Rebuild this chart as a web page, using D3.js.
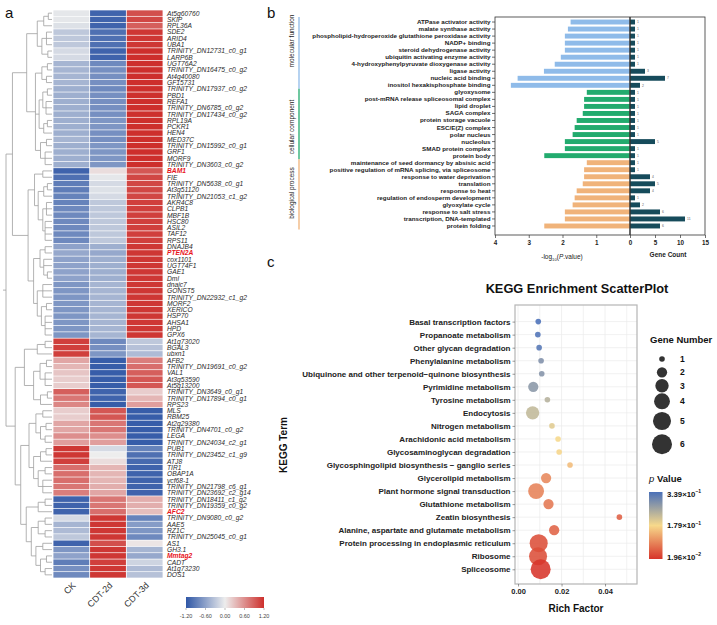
<!DOCTYPE html>
<html><head><meta charset="utf-8">
<script src="https://cdn.jsdelivr.net/npm/d3@7"></script>
<style>body{margin:0;background:#fff} svg{display:block} text{font-family:"Liberation Sans",Arial,sans-serif}</style>
</head><body><svg id="c" width="717" height="625"></svg>
<script>
// ---------- Panel a data ----------
const genes = ["At5g60760","SKIP","RPL36A","SDE2","ARID4","UBA1","TRINITY_DN12731_c0_g1","LARP6B","UGT76A2","TRINITY_DN16475_c0_g2","At4g40080","GF15731","TRINITY_DN17937_c0_g2","PBD1","REFA1","TRINITY_DN6785_c0_g2","TRINITY_DN17434_c0_g2","RPL19A","PCKR1","HEN4","MED37C","TRINITY_DN15992_c0_g1","GRF1","MORF9","TRINITY_DN3603_c0_g2","BAM1","FIE","TRINITY_DN5638_c0_g1","At3g51120","TRINITY_DN21053_c1_g2","AKR4C8","CLPB1","MBF1B","HSC80","ASIL2","TAF12","RPS11","DNAJB4","PTEN2A","cox1101","UGT74F1","GAE1","Dml","dnajc7","GONST5","TRINITY_DN22932_c1_g2","MORF2","XERICO","HSP70","AHSA1","HPD","GPX6","At1g73020","BGAL3","ubxn1","AFB2","TRINITY_DN19691_c0_g2","VAL1","At3g53590","At5g13200","TRINITY_DN3649_c0_g1","TRINITY_DN17894_c0_g1","RPS23","MLS","RBM25","At2g29380","TRINITY_DN4701_c0_g2","LEGA","TRINITY_DN24034_c2_g1","PUB1","TRINITY_DN23452_c1_g9","ATJ8","TIR1","OBAP1A","ycf68-1","TRINITY_DN21798_c6_g1","TRINITY_DN23692_c2_g14","TRINITY_DN18411_c1_g2","TRINITY_DN19359_c0_g2","AFC2","TRINITY_DN9080_c0_g2","AAE5","RZ1C","TRINITY_DN25045_c0_g1","AS1","GH3.1","Mmtag2","CADT","At1g73230","DOS1"];
const highlightGenes = ["BAM1","PTEN2A","AFC2","Mmtag2"];
const conditions = ["CK","CDT-2d","CDT-3d"];
const ckValues = [-0.05,-0.05,-0.1,-0.3,-0.3,-0.3,-0.15,-0.15,-0.45,-0.45,-0.45,-0.45,-0.5,-0.5,-0.5,-0.5,-0.5,-0.5,-0.5,-0.5,-0.45,-0.5,-0.5,-0.5,-0.5,
 -1.1,-1.0,-0.9,-0.9,-0.85,-0.85,-0.8,-0.8,-0.8,-0.8,-0.8,-0.8,-0.6,-0.55,-0.6,-0.6,-0.6,-0.6,-0.7,-0.7,-0.7,-0.7,-0.7,-0.7,-0.7,-0.7,-0.7,
 1.1,1.1,1.1,0.45,0.35,0.25,0.2,0.2,0.9,0.75,0.65,
 0.2,0.2,0.45,0.45,0.6,0.5,1.15,1.15,1.1,0.8,0.8,0.8,0.75,0.7,-1.1,-1.1,-1.1,-0.15,-0.45,-0.4,-0.3,-1.1,-0.7,-0.6,-0.9,-0.75,-0.8];
const cdt2dValues = [-1.1,-1.1,-1.1,-1.0,-1.0,-1.0,-1.1,-1.1,-0.8,-0.75,-0.75,-0.75,-0.8,-0.75,-0.75,-0.75,-0.75,-0.7,-0.7,-0.75,-0.75,-0.7,-0.7,-0.7,-0.7,
 0.1,-0.05,-0.15,-0.1,-0.15,-0.3,-0.3,-0.3,-0.3,-0.3,-0.3,-0.3,-0.5,-0.55,-0.5,-0.5,-0.5,-0.5,-0.45,-0.45,-0.45,-0.45,-0.45,-0.45,-0.45,-0.45,-0.45,
 -0.8,-0.75,-0.7,-1.15,-1.15,-1.15,-1.15,-1.15,-1.1,-1.1,-1.15,
 0.95,0.95,0.75,0.75,0.6,0.5,-0.15,0.0,0.1,0.35,0.35,0.35,0.4,0.45,0.75,0.75,0.8,1.15,1.15,1.15,1.15,1.0,1.15,1.15,1.1,1.15,1.15];
const cdt3dValues = [1.0,1.05,0.9,1.15,1.15,1.15,1.2,1.2,1.2,1.2,1.2,1.2,1.2,1.2,1.2,1.2,1.2,1.2,1.2,1.2,1.2,1.2,1.2,1.2,1.2,
 0.95,1.05,1.05,1.05,1.05,1.1,1.1,1.1,1.1,1.1,1.1,1.1,1.15,1.15,1.15,1.15,1.15,1.15,1.15,1.15,1.15,1.15,1.15,1.15,1.15,1.15,1.15,
 -0.3,-0.35,-0.4,0.7,0.8,0.9,0.95,0.95,0.2,0.35,0.5,
 -1.15,-1.15,-1.15,-1.15,-1.15,-1.15,-0.85,-1.0,-1.05,-1.1,-1.1,-1.1,-1.1,-1.1,0.4,0.4,0.3,-0.85,-0.65,-0.7,-0.8,0.05,-0.45,-0.55,-0.2,-0.4,-0.35];
const heatTicks = [-1.2,-0.6,0,0.6,1.2];
// dendrogram: [height, ...children], leaves = row index
const treeA1a = [3.2,[1.8,[0.8,0,1],2],[2.2,[1.2,3,4,5],[0.9,6,7]]];
const treeA1b = [3.6,[2.2,[1,8,9],[1.2,10,11]],[2.8,[2,[1,12,13],[1.3,14,15,16]],[1.8,[1,17,18],19]],[2.5,[1.2,20,21],[1.5,22,23,24]]];
const treeA2a = [3.8,[2,25,26],[3,[1.8,[1,27,28],29],[2,[1.2,30,31,32],[1.5,33,34,35,36]]]];
const treeA2b = [4,[2.6,[1.5,37,38],[1.8,39,40,[1,41,42]]],[3.2,[2,43,44,45],[2.3,[1.2,46,47],[1.5,48,49,50,51]]]];
const treeB1 = [6,[3.2,[1.5,52,53],54],[4,[2.6,[1.2,55,56],[1.5,57,58,59]],[2.5,[1,60,61],62]]];
const treeB2a = [5,[3.5,[2,63,64],[2.5,[1.3,65,66],[1.5,67,68]]],[4,[2.5,[1.3,69,70],71],[3,[1.5,72,73],[2,74,75,76]]]];
const treeB2b = [5.6,[3,[1.5,77,78],79],[4.5,[3,[1.5,80,81],[1.5,82,83]],[3.5,[2,84,85],[2.5,[1.2,86,87],[1.5,88,89]]]]];
const dendrogram = [10,[8.6,[5.5,treeA1a,treeA1b],[5.2,treeA2a,treeA2b]],[8,treeB1,[6.8,treeB2a,treeB2b]]];

// ---------- Panel b data ----------
const goTerms = ["ATPase activator activity","malate synthase activity","phospholipid-hydroperoxide glutathione peroxidase activity","NADP+ binding","steroid dehydrogenase activity","ubiquitin activating enzyme activity","4-hydroxyphenylpyruvate dioxygenase activity","ligase activity","nucleic acid binding","inositol hexakisphosphate binding","glyoxysome","post-mRNA release spliceosomal complex","lipid droplet","SAGA complex","protein storage vacuole","ESC/E(Z) complex","polar nucleus","nucleolus","SMAD protein complex","protein body","maintenance of seed dormancy by absisic acid","positive regulation of mRNA splicing, via spliceosome","response to water deprivation","translation","response to heat","regulation of endosperm development","glyoxylate cycle","response to salt stress","transcription, DNA-templated","protein folding"];
const goGroups = ["molecular function","cellular component","biological process"];
const goTermGroup = ["molecular function","molecular function","molecular function","molecular function","molecular function","molecular function","molecular function","molecular function","molecular function","molecular function",
 "cellular component","cellular component","cellular component","cellular component","cellular component","cellular component","cellular component","cellular component","cellular component","cellular component",
 "biological process","biological process","biological process","biological process","biological process","biological process","biological process","biological process","biological process","biological process"];
const goLogP = [1.76,1.84,1.93,1.93,1.93,2.05,2.23,2.55,3.33,3.53, 1.28,1.36,1.36,1.40,1.58,1.64,1.70,1.93,1.93,2.54, 1.28,1.36,1.36,1.40,1.58,1.64,1.70,1.93,1.93,2.54];
const goCounts = [1,1,1,1,1,1,1,3,7,2, 1,1,1,1,1,1,1,5,1,1, 1,1,4,5,4,1,2,6,11,6];
const goPTicks = [4,3,2,1,0];
const goCountTicks = [5,10,15];

// ---------- Panel c data ----------
const keggTerms = ["Basal transcription factors","Propanoate metabolism","Other glycan degradation","Phenylalanine metabolism","Ubiquinone and other terpenoid\u2212quinone biosynthesis","Pyrimidine metabolism","Tyrosine metabolism","Endocytosis","Nitrogen metabolism","Arachidonic acid metabolism","Glycosaminoglycan degradation","Glycosphingolipid biosynthesis \u2212 ganglio series","Glycerolipid metabolism","Plant hormone signal transduction","Glutathione metabolism","Zeatin biosynthesis","Alanine, aspartate and glutamate metabolism","Protein processing in endoplasmic reticulum","Ribosome","Spliceosome"];
const keggRich = [0.0093,0.0091,0.0097,0.0106,0.0109,0.0070,0.0135,0.0067,0.0156,0.0184,0.0189,0.0239,0.0129,0.0083,0.0140,0.0466,0.0166,0.0095,0.0092,0.0104];
const keggGenes = [1,1,1,1,1,2,1,3,1,1,1,1,2,4,2,1,2,5,5,6];
const keggP = [0.339,0.335,0.33,0.29,0.285,0.28,0.24,0.23,0.2,0.18,0.175,0.15,0.1,0.095,0.085,0.06,0.065,0.045,0.045,0.0196];
const sizeLegend = [1,2,3,4,5,6];
const pLegend = [0.339,0.179,0.0196];
const pLegendText = [["3.39\u00d710","\u22121"],["1.79\u00d710","\u22121"],["1.96\u00d710","\u22122"]];
const richTicks = [0,0.02,0.04];

// ================= drawing =================
const svg = d3.select("#c");
svg.append("rect").attr("width",717).attr("height",625).attr("fill","#fff");
const defs = svg.append("defs");
const FF = "'Liberation Sans',Arial,sans-serif";

// panel letters
[["a",5,18],["b",267,18],["c",267,267]].forEach(([t,x,y])=>svg.append("text").attr("x",x).attr("y",y).attr("font-size",15).attr("fill","#111").text(t));

// ----- Panel a -----
const gA = svg.append("g");
const rowY = d3.scaleBand().domain(d3.range(genes.length)).range([10,578]);
const colX = d3.scaleBand().domain(conditions).range([53,163]);
const heatColor = d3.scaleLinear().domain([-1.2,0,1.2]).range(["#2f57a6","#ededed","#cd2f2c"]).clamp(true);
const matrix = [ckValues,cdt2dValues,cdt3dValues];
conditions.forEach((c,j)=>{
  gA.append("g").selectAll("rect").data(matrix[j]).join("rect")
    .attr("x",colX(c)+0.4).attr("width",colX.bandwidth()-0.8)
    .attr("y",(d,i)=>rowY(i)+0.35).attr("height",rowY.bandwidth()-0.7)
    .attr("fill",d=>heatColor(d));
});
gA.append("g").selectAll("text").data(genes).join("text")
  .attr("x",167).attr("y",(d,i)=>rowY(i)+rowY.bandwidth()/2+2.4)
  .attr("font-size",6.7).attr("font-style","italic")
  .attr("font-weight",d=>highlightGenes.includes(d)?"bold":"normal")
  .attr("fill",d=>highlightGenes.includes(d)?"#e8141b":"#2a2a2a").text(d=>d);
// dendrogram
const dX = d3.scaleLinear().domain([0,10]).range([52,6]);
const gD = gA.append("g").attr("stroke","#a0a0a0").attr("stroke-width",0.8).attr("fill","none");
function drawNode(node){
  if(typeof node==="number") return {x:dX(0), y:rowY(node)+rowY.bandwidth()/2};
  const x = dX(node[0]);
  const kids = node.slice(1).map(drawNode);
  const ys = kids.map(k=>k.y);
  const y0=d3.min(ys), y1=d3.max(ys);
  gD.append("line").attr("x1",x).attr("x2",x).attr("y1",y0).attr("y2",y1);
  kids.forEach(k=>gD.append("line").attr("x1",x).attr("x2",k.x).attr("y1",k.y).attr("y2",k.y));
  return {x, y:(y0+y1)/2};
}
const rootPos = drawNode(dendrogram);
gD.append("line").attr("x1",rootPos.x).attr("x2",rootPos.x-3).attr("y1",rootPos.y).attr("y2",rootPos.y);
// column labels
conditions.forEach(c=>{
  gA.append("text").attr("transform",`translate(${colX(c)+colX.bandwidth()/2+5},586) rotate(-45)`)
    .attr("text-anchor","end").attr("font-size",9).attr("fill","#333").text(c);
});
// color legend
const legX = d3.scaleLinear().domain([-1.2,1.2]).range([186,264]);
const hg = defs.append("linearGradient").attr("id","hg");
heatColor.domain().forEach(v=>hg.append("stop").attr("offset",(v+1.2)/2.4).attr("stop-color",heatColor(v)));
gA.append("rect").attr("x",legX(-1.2)).attr("y",597).attr("width",legX(1.2)-legX(-1.2)).attr("height",11).attr("fill","url(#hg)");
heatTicks.forEach(t=>{
  gA.append("line").attr("x1",legX(t)).attr("x2",legX(t)).attr("y1",608).attr("y2",610).attr("stroke","#777").attr("stroke-width",0.5);
  gA.append("text").attr("x",legX(t)).attr("y",617.5).attr("text-anchor","middle").attr("font-size",5.5).attr("fill","#444").text(t.toFixed(2));
});

// ----- Panel b -----
const gB = svg.append("g");
const xL = d3.scaleLinear().domain([4,0]).range([495,630]);
const xR = d3.scaleLinear().domain([0,15]).range([630,705]);
const yB = d3.scaleBand().domain(goTerms).range([18.5,229.5]).paddingInner(0.3).paddingOuter(0.15);
const groupColor = d3.scaleOrdinal().domain(goGroups).range(["#8fbbe9","#22ab6e","#f0b37a"]);
gB.append("g").selectAll("rect").data(goTerms).join("rect")
  .attr("x",(d,i)=>xL(goLogP[i])).attr("width",(d,i)=>xL(0)-xL(goLogP[i]))
  .attr("y",d=>yB(d)).attr("height",yB.bandwidth())
  .attr("fill",(d,i)=>groupColor(goTermGroup[i]));
gB.append("g").selectAll("rect").data(goTerms).join("rect")
  .attr("x",xR(0)).attr("width",(d,i)=>xR(goCounts[i])-xR(0))
  .attr("y",d=>yB(d)).attr("height",yB.bandwidth())
  .attr("fill","#164b5b");
gB.append("g").selectAll("text").data(goTerms).join("text")
  .attr("x",(d,i)=>xR(goCounts[i])+2).attr("y",d=>yB(d)+yB.bandwidth()/2+1.2)
  .attr("font-size",3.4).attr("fill","#666").text((d,i)=>goCounts[i]);
// frame
gB.append("rect").attr("x",495).attr("y",17).attr("width",210).attr("height",218).attr("fill","none").attr("stroke","#333").attr("stroke-width",0.8);
gB.append("line").attr("x1",630).attr("x2",630).attr("y1",17).attr("y2",235).attr("stroke","#333").attr("stroke-width",1.5);
// left axis
const axL = gB.append("g").attr("transform","translate(495,0)").call(d3.axisLeft(yB).tickSize(3).tickPadding(1.5));
axL.select(".domain").remove();
axL.selectAll("line").attr("stroke","#333").attr("stroke-width",0.7);
axL.selectAll("text").attr("font-size",6.25).attr("font-weight","bold").attr("fill","#222").attr("font-family",FF);
// bottom axes
const axB1 = gB.append("g").attr("transform","translate(0,235)").call(d3.axisBottom(xL).tickValues(goPTicks).tickSize(3).tickFormat(d3.format("d")));
const axB2 = gB.append("g").attr("transform","translate(0,235)").call(d3.axisBottom(xR).tickValues(goCountTicks).tickSize(3).tickFormat(d3.format("d")));
[axB1,axB2].forEach(a=>{a.select(".domain").remove();a.selectAll("line").attr("stroke","#333").attr("stroke-width",0.7);
  a.selectAll("text").attr("font-size",6.3).attr("font-weight","bold").attr("fill","#222").attr("font-family",FF);});
const t1 = gB.append("text").attr("x",562).attr("y",259).attr("text-anchor","middle").attr("font-size",6.5).attr("fill","#222");
t1.append("tspan").text("-log");
t1.append("tspan").attr("font-size",4.2).attr("dy",1.8).text("10");
t1.append("tspan").attr("dy",-1.8).text("(");
t1.append("tspan").attr("font-style","italic").text("P");
t1.append("tspan").text(".value)");
gB.append("text").attr("x",668).attr("y",257).attr("text-anchor","middle").attr("font-size",6.5).attr("font-weight","bold").attr("fill","#222").text("Gene Count");
// group side bars
const groupLabelY = [41,127,193];
goGroups.forEach((g,k)=>{
  const terms = goTerms.filter((t,i)=>goTermGroup[i]===g);
  const step = yB.step();
  const y0 = k===0 ? 17 : yB(terms[0]) - (step-yB.bandwidth())/2;
  const y1 = yB(terms[terms.length-1]) + yB.bandwidth() + (step-yB.bandwidth())/2;
  gB.append("line").attr("x1",299).attr("x2",299).attr("y1",y0).attr("y2",y1).attr("stroke",groupColor(g)).attr("stroke-width",1.3);
  gB.append("text").attr("transform",`translate(294,${groupLabelY[k]}) rotate(-90)`).attr("text-anchor","middle")
    .attr("font-size",6.5).attr("fill","#222").text(g);
});

// ----- Panel c -----
const gC = svg.append("g");
gC.append("text").attr("x",577).attr("y",293).attr("text-anchor","middle").attr("font-size",12.8).attr("font-weight","bold").attr("fill","#111").text("KEGG Enrichment ScatterPlot");
const xC = d3.scaleLinear().domain([-0.0014,0.0547]).range([515,637]);
const yC = d3.scalePoint().domain(keggTerms).range([321.6,569.3]);
const rC = d3.scaleRadial().domain([1,6]).range([2.8,10]);
const pColor = d3.scaleLinear().domain([0.0196,0.179,0.339]).range(["#d7342a","#f7d98b","#4a70b8"]);
// grid
const gridMinor = [0.01,0.03,0.05];
gC.append("g").selectAll("line").data(richTicks.concat(gridMinor)).join("line")
  .attr("x1",d=>xC(d)).attr("x2",d=>xC(d)).attr("y1",305).attr("y2",584).attr("stroke","#ebebeb").attr("stroke-width",0.7);
gC.append("g").selectAll("line").data(keggTerms).join("line")
  .attr("x1",515).attr("x2",637).attr("y1",d=>yC(d)).attr("y2",d=>yC(d)).attr("stroke","#ebebeb").attr("stroke-width",0.7);
// points
gC.append("g").selectAll("circle").data(keggTerms).join("circle")
  .attr("cx",(d,i)=>xC(keggRich[i])).attr("cy",d=>yC(d)).attr("r",(d,i)=>rC(keggGenes[i]))
  .attr("fill",(d,i)=>pColor(keggP[i])).attr("fill-opacity",0.88);
gC.append("rect").attr("x",515).attr("y",305).attr("width",122).attr("height",279).attr("fill","none").attr("stroke","#b5b5b5").attr("stroke-width",1.2);
const ayC = gC.append("g").attr("transform","translate(515,0)").call(d3.axisLeft(yC).tickSize(2.5).tickPadding(2));
ayC.select(".domain").remove();
ayC.selectAll("line").attr("stroke","#555").attr("stroke-width",0.6);
ayC.selectAll("text").attr("font-size",8).attr("font-weight","bold").attr("fill","#222").attr("font-family",FF);
const axC = gC.append("g").attr("transform","translate(0,584)").call(d3.axisBottom(xC).tickValues(richTicks).tickSize(2.5).tickPadding(2).tickFormat(d3.format(".2f")));
axC.select(".domain").remove();
axC.selectAll("line").attr("stroke","#555").attr("stroke-width",0.6);
axC.selectAll("text").attr("font-size",7.5).attr("font-weight","bold").attr("fill","#222").attr("font-family",FF);
gC.append("text").attr("x",576).attr("y",612).attr("text-anchor","middle").attr("font-size",10).attr("font-weight","bold").attr("fill","#111").text("Rich Factor");
gC.append("text").attr("transform","translate(287,445) rotate(-90)").attr("text-anchor","middle").attr("font-size",10).attr("font-weight","bold").attr("fill","#111").text("KEGG Term");
// size legend
gC.append("text").attr("x",650).attr("y",343).attr("font-size",9.5).attr("font-weight","bold").attr("fill","#111").text("Gene Number");
const sizeLegY = d3.scaleOrdinal().domain(sizeLegend).range([359,372.3,385.7,401.3,421,444.3]);
sizeLegend.forEach(s=>{
  gC.append("circle").attr("cx",662).attr("cy",sizeLegY(s)).attr("r",rC(s)).attr("fill","#333");
  gC.append("text").attr("x",680).attr("y",sizeLegY(s)+3).attr("font-size",8.5).attr("font-weight","bold").attr("fill","#111").text(s);
});
// p legend
const pt = gC.append("text").attr("x",649).attr("y",482).attr("font-size",9.5).attr("font-weight","bold").attr("fill","#111");
pt.append("tspan").attr("font-style","italic").attr("font-weight","normal").text("p");
pt.append("tspan").text(" Value");
const pg = defs.append("linearGradient").attr("id","pg").attr("x1",0).attr("x2",0).attr("y1",0).attr("y2",1);
pColor.domain().slice().reverse().forEach((v,k)=>pg.append("stop").attr("offset",k/2).attr("stop-color",pColor(v)));
const pY = d3.scaleLinear().domain([0.339,0.0196]).range([494,557]);
gC.append("rect").attr("x",649).attr("y",492).attr("width",13.5).attr("height",67).attr("fill","url(#pg)");
pLegend.forEach((v,k)=>{
  const t = gC.append("text").attr("x",667).attr("y",pY(v)+2.5).attr("font-size",7.8).attr("font-weight","bold").attr("fill","#111");
  t.append("tspan").text(pLegendText[k][0]);
  t.append("tspan").attr("font-size",5).attr("dy",-3.5).text(pLegendText[k][1]);
});
</script></body></html>
